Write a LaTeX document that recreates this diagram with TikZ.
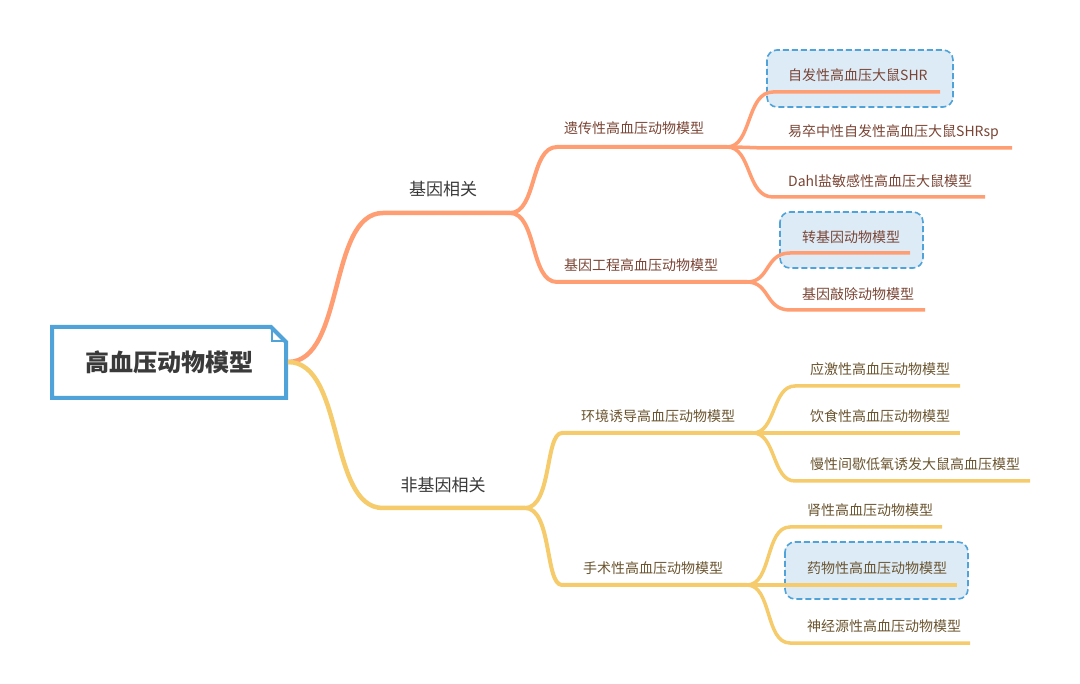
\documentclass[tikz,border=0pt]{standalone}
\usepackage{fontspec}
\setmainfont{Noto Sans CJK SC}
\definecolor{orl}{HTML}{FF9E73}
\definecolor{yel}{HTML}{F5CB6B}
\definecolor{blu}{HTML}{4FA3D9}
\definecolor{bfill}{HTML}{DDEBF7}
\definecolor{ortxt}{HTML}{7A4535}
\definecolor{yetxt}{HTML}{6B5530}
\definecolor{dk}{HTML}{3A3A3A}
\tikzset{
  lv1/.style={line width=4.5pt,line cap=butt},
  lv2/.style={line width=4pt,line cap=butt},
  lv3/.style={line width=3.5pt,line cap=butt},
  t1/.style={inner sep=0pt,font=\fontsize{17pt}{20pt}\selectfont,text=dk},
  t2o/.style={inner sep=0pt,font=\fontsize{14pt}{17pt}\selectfont,text=ortxt},
  t2y/.style={inner sep=0pt,font=\fontsize{14pt}{17pt}\selectfont,text=yetxt},
  t3o/.style={t2o,anchor=west},
  t3y/.style={t2y,anchor=west},
  hibox/.style={draw=blu,fill=bfill,dashed,dash pattern=on 6pt off 3pt,line width=1.6pt,rounded corners=10pt},
}
\begin{document}
\begin{tikzpicture}[x=1pt,y=-1pt]
\useasboundingbox[fill=white] (0,0) rectangle (1080,684);
% highlight boxes
\draw[hibox] (767,50) rectangle (953,107);
\draw[hibox] (780,212) rectangle (923,268);
\draw[hibox] (785,542) rectangle (968,599);
% root
\draw[blu,line width=4pt,line join=miter] (52,327) -- (271,327) -- (286,342) -- (286,398) -- (52,398) -- cycle;
\draw[blu,line width=2.5pt] (272,328) -- (272,341) -- (285,341);
\node[inner sep=0pt,font=\fontsize{24pt}{28pt}\selectfont\bfseries,text=dk] (root) at (169,362) {高血压动物模型};
\coordinate (r) at (288,362);
% ---------- orange side
\coordinate (a0) at (383,213); \coordinate (a1) at (510,213);
\draw[orl,lv1] (r) .. controls (345,362) and (328,213) .. (a0) -- (a1);
\node[t1] (la) at (443,189) {基因相关};
% A1
\coordinate (b10) at (557,147); \coordinate (b11) at (727,147);
\draw[orl,lv2] (a1) .. controls (537,213) and (530,147) .. (b10) -- (b11);
\node[t2o] (lb1) at (634,128) {遗传性高血压动物模型};
\coordinate (c10) at (773,92); \coordinate (c11) at (940,92);
\coordinate (c20) at (770,148); \coordinate (c21) at (1012,148);
\coordinate (c30) at (773,197); \coordinate (c31) at (985,197);
\draw[orl,lv3] (b11) .. controls (752,147) and (746,92) .. (c10) -- (c11);
\draw[orl,lv3] (b11) .. controls (745,147) and (755,148) .. (c20) -- (c21);
\draw[orl,lv3] (b11) .. controls (752,147) and (746,197) .. (c30) -- (c31);
\node[t3o] (lc1) at (788,75) {自发性高血压大鼠SHR};
\node[t3o] (lc2) at (788,132) {易卒中性自发性高血压大鼠SHRsp};
\node[t3o] (lc3) at (788,181) {Dahl盐敏感性高血压大鼠模型};
% A2
\coordinate (b20) at (557,282); \coordinate (b21) at (747,282);
\draw[orl,lv2] (a1) .. controls (537,213) and (530,282) .. (b20) -- (b21);
\node[t2o] (lb2) at (641,265) {基因工程高血压动物模型};
\coordinate (d10) at (790,253); \coordinate (d11) at (910,253);
\coordinate (d20) at (790,310); \coordinate (d21) at (925,310);
\draw[orl,lv3] (b21) .. controls (770,282) and (765,253) .. (d10) -- (d11);
\draw[orl,lv3] (b21) .. controls (770,282) and (765,310) .. (d20) -- (d21);
\node[t3o] (ld1) at (802,237) {转基因动物模型};
\node[t3o] (ld2) at (802,294) {基因敲除动物模型};
% ---------- yellow side
\coordinate (e0) at (383,508); \coordinate (e1) at (525,508);
\draw[yel,lv1] (r) .. controls (345,362) and (328,508) .. (e0) -- (e1);
\node[t1] (le) at (443,485) {非基因相关};
% B1
\coordinate (f10) at (562,433); \coordinate (f11) at (753,433);
\draw[yel,lv2] (e1) .. controls (552,508) and (545,433) .. (f10) -- (f11);
\node[t2y] (lf1) at (658,416) {环境诱导高血压动物模型};
\coordinate (g10) at (795,386); \coordinate (g11) at (960,386);
\coordinate (g20) at (795,433); \coordinate (g21) at (960,433);
\coordinate (g30) at (795,481); \coordinate (g31) at (1030,481);
\draw[yel,lv3] (f11) .. controls (776,433) and (772,386) .. (g10) -- (g11);
\draw[yel,lv3] (f11) -- (g20) -- (g21);
\draw[yel,lv3] (f11) .. controls (776,433) and (772,481) .. (g30) -- (g31);
\node[t3y] (lg1) at (810,369) {应激性高血压动物模型};
\node[t3y] (lg2) at (810,416) {饮食性高血压动物模型};
\node[t3y] (lg3) at (810,464) {慢性间歇低氧诱发大鼠高血压模型};
% B2
\coordinate (f20) at (562,585); \coordinate (f21) at (747,585);
\draw[yel,lv2] (e1) .. controls (552,508) and (545,585) .. (f20) -- (f21);
\node[t2y] (lf2) at (653,568) {手术性高血压动物模型};
\coordinate (h10) at (790,527); \coordinate (h11) at (942,527);
\coordinate (h20) at (790,585); \coordinate (h21) at (957,585);
\coordinate (h30) at (790,643); \coordinate (h31) at (970,643);
\draw[yel,lv3] (f21) .. controls (772,585) and (765,527) .. (h10) -- (h11);
\draw[yel,lv3] (f21) -- (h20) -- (h21);
\draw[yel,lv3] (f21) .. controls (772,585) and (765,643) .. (h30) -- (h31);
\node[t3y] (lh1) at (807,510) {肾性高血压动物模型};
\node[t3y] (lh2) at (807,568) {药物性高血压动物模型};
\node[t3y] (lh3) at (807,626) {神经源性高血压动物模型};
\end{tikzpicture}
\end{document}
